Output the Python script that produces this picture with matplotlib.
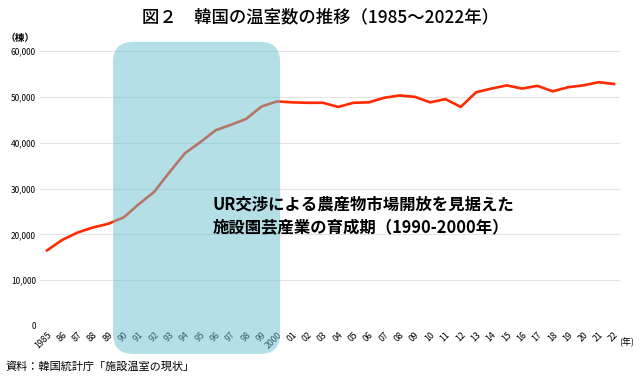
import matplotlib
matplotlib.use("Agg")
import matplotlib.pyplot as plt
from matplotlib.patches import FancyBboxPatch

plt.rcParams['font.family'] = ['Noto Sans CJK JP', 'DejaVu Sans']

# 温室数（棟）
years = list(range(1985, 2023))
counts = [16500, 18800, 20400, 21500, 22300, 23700, 26600, 29300, 33600, 37700,
          40100, 42700, 43900, 45200, 47900, 49000, 48800, 48700, 48700, 47800,
          48700, 48800, 49800, 50300, 50000, 48800, 49500, 47800, 51000, 51800,
          52500, 51800, 52400, 51200, 52100, 52500, 53200, 52800]
tick_labels = ["1985"] + [str(y)[2:] for y in years[1:15]] + ["2000"] + [str(y)[2:] for y in years[16:]]
period = (1990, 2000)

fig = plt.figure(figsize=(6.4, 3.77), dpi=100)
ax = fig.add_axes([0.0625, 0.1353, 0.9065, 0.7294])

ax.plot(years, counts, color="#ff2a00", lw=1.9, zorder=3)

ax.set_xlim(1984.54, 2022.4)
ax.set_ylim(0, 60000)
ax.set_yticks(range(0, 60001, 10000))
ax.set_yticklabels(["0"] + [f"{v:,}" for v in range(10000, 60001, 10000)], fontsize=6)
ax.set_xticks(years)
ax.set_xticklabels(tick_labels, fontsize=6.3, rotation=45, ha="right", rotation_mode="anchor")
ax.tick_params(length=0, pad=3, colors="black")
ax.grid(axis="y", color="#e3e3e3", lw=0.8)
ax.set_axisbelow(True)
for s in ax.spines.values():
    s.set_visible(False)

# 育成期のハイライト
box = FancyBboxPatch((period[0] - 0.69, -6100), period[1] - period[0] + 0.9, 68100,
                     boxstyle="round,pad=0,rounding_size=1.3", mutation_aspect=3360,
                     facecolor="#6cc1cf", edgecolor="none", alpha=0.5,
                     clip_on=False, zorder=5)
ax.add_patch(box)

ax.text(1995.8, 24000, "UR交渉による農産物市場開放を見据えた\n施設園芸産業の育成期（1990-2000年）",
        fontsize=11.8, fontweight="bold", va="center", ha="left", linespacing=1.3, zorder=6)

fig.text(0.5, 0.955, "図２　韓国の温室数の推移（1985～2022年）", ha="center", va="center",
         fontsize=12.5, fontweight="medium")
fig.text(0.008, 0.9, "（棟）", fontsize=7, fontweight="bold", va="center")
fig.text(0.968, 0.092, "(年)", fontsize=6.5, va="center")
fig.text(0.008, 0.028, "資料：韓国統計庁「施設温室の現状」", fontsize=8, va="center")

fig.savefig("out.png", dpi=100)
